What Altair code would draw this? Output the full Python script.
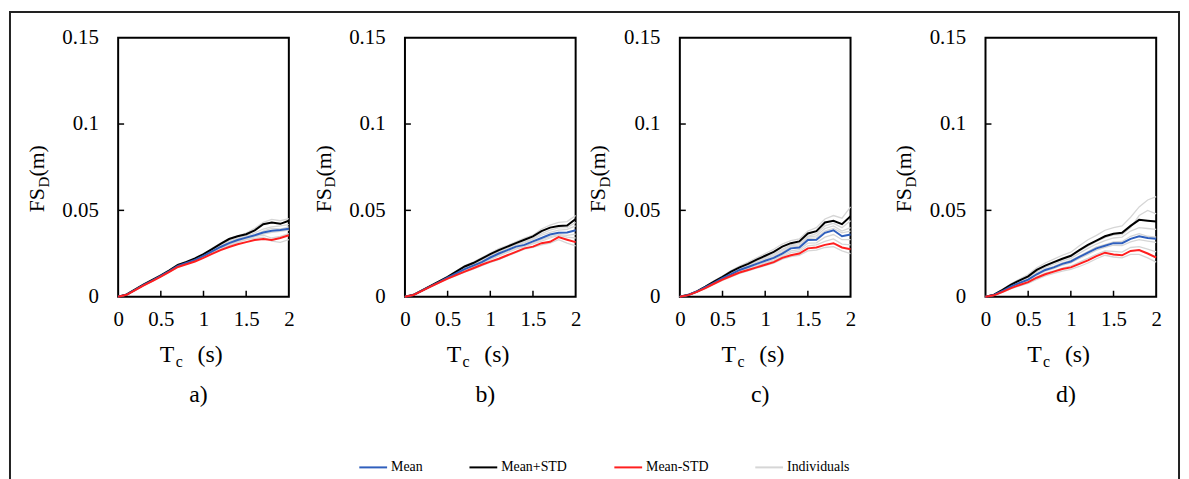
import altair as alt
import pandas as pd

FONT = "Liberation Serif"
W, H = 172, 261

TC = [0, 0.1, 0.2, 0.3, 0.4, 0.5, 0.6, 0.7, 0.8, 0.9, 1.0,
      1.1, 1.2, 1.3, 1.4, 1.5, 1.6, 1.7, 1.8, 1.9, 2.0]

SERIES = ["Mean", "Mean+STD", "Mean-STD", "Individuals"]
COLORS = ["#2f5fbd", "#000000", "#ff1f1f", "#d6d6d6"]
X_TICKS = [0.5, 1, 1.5]
Y_TICKS = [0.05, 0.1]
X_LABELS = [0, 0.5, 1, 1.5, 2]
Y_LABELS = [0, 0.05, 0.1, 0.15]

# ---- panel a ----
a_mean = [0, .0012, .0040, .0068, .0093, .0120, .0148, .0178, .0195, .0213, .0236, .0262, .0288, .0310, .0328, .0342, .0356, .0372, .0382, .0386, .0394]
a_up = [0, .0013, .0042, .0071, .0097, .0124, .0152, .0184, .0202, .0222, .0247, .0276, .0306, .0334, .0350, .0362, .0384, .0420, .0430, .0422, .0440]
a_low = [0, .0011, .0038, .0066, .0090, .0116, .0144, .0172, .0188, .0204, .0225, .0248, .0270, .0288, .0304, .0316, .0328, .0334, .0328, .0340, .0356]
a_ind = [
    [0, .0013, .0042, .0070, .0096, .0123, .0152, .0188, .0200, .0222, .0245, .0280, .0310, .0336, .0352, .0368, .0396, .0430, .0448, .0440, .0452],
    [0, .0011, .0039, .0066, .0090, .0118, .0144, .0170, .0190, .0206, .0230, .0255, .0276, .0300, .0318, .0330, .0338, .0345, .0322, .0315, .0330],
    [0, .0012, .0041, .0069, .0094, .0121, .0150, .0182, .0197, .0218, .0240, .0268, .0296, .0322, .0340, .0352, .0370, .0392, .0405, .0410, .0418],
    [0, .0012, .0039, .0067, .0092, .0119, .0146, .0175, .0193, .0210, .0232, .0258, .0282, .0302, .0322, .0336, .0350, .0362, .0372, .0378, .0385],
    [0, .0013, .0041, .0069, .0095, .0122, .0150, .0180, .0199, .0216, .0238, .0264, .0292, .0315, .0335, .0346, .0358, .0380, .0395, .0392, .0405],
    [0, .0011, .0039, .0067, .0092, .0117, .0145, .0176, .0192, .0208, .0228, .0252, .0280, .0296, .0314, .0330, .0348, .0356, .0340, .0350, .0365],
]

# ---- panel b ----
b_mean = [0, .0010, .0035, .0060, .0085, .0110, .0135, .0160, .0180, .0200, .0227, .0250, .0270, .0290, .0300, .0320, .0340, .0360, .0370, .0372, .0385]
b_up = [0, .0011, .0037, .0063, .0089, .0115, .0145, .0175, .0195, .0220, .0246, .0270, .0290, .0310, .0330, .0349, .0380, .0400, .0410, .0412, .0450]
b_low = [0, .0010, .0034, .0058, .0082, .0105, .0125, .0145, .0165, .0185, .0203, .0220, .0240, .0260, .0280, .0290, .0310, .0318, .0345, .0330, .0316]
b_ind = [
    [0, .0011, .0038, .0064, .0090, .0117, .0148, .0180, .0200, .0226, .0252, .0278, .0296, .0318, .0340, .0356, .0392, .0415, .0430, .0435, .0470],
    [0, .0010, .0033, .0057, .0080, .0103, .0122, .0142, .0160, .0180, .0198, .0215, .0236, .0255, .0275, .0285, .0300, .0310, .0330, .0310, .0295],
    [0, .0010, .0036, .0061, .0086, .0112, .0138, .0165, .0186, .0206, .0235, .0258, .0280, .0300, .0312, .0332, .0356, .0372, .0385, .0390, .0410],
    [0, .0010, .0035, .0059, .0084, .0108, .0132, .0156, .0175, .0195, .0220, .0242, .0262, .0282, .0295, .0312, .0330, .0348, .0360, .0355, .0362],
    [0, .0011, .0036, .0062, .0087, .0113, .0140, .0168, .0188, .0212, .0236, .0262, .0282, .0302, .0318, .0338, .0365, .0385, .0398, .0400, .0430],
    [0, .0010, .0034, .0059, .0083, .0107, .0130, .0152, .0172, .0190, .0215, .0236, .0256, .0276, .0290, .0306, .0322, .0340, .0355, .0345, .0340],
]

# ---- panel c ----
c_mean = [0, .0010, .0030, .0055, .0080, .0107, .0130, .0155, .0172, .0190, .0208, .0225, .0250, .0280, .0285, .0328, .0330, .0370, .0385, .0350, .0360]
c_up = [0, .0011, .0031, .0058, .0088, .0115, .0145, .0170, .0190, .0215, .0237, .0260, .0290, .0310, .0320, .0366, .0380, .0430, .0440, .0420, .0466]
c_low = [0, .0009, .0028, .0050, .0075, .0099, .0120, .0140, .0155, .0170, .0185, .0200, .0225, .0240, .0250, .0280, .0285, .0300, .0310, .0285, .0275]
c_ind = [
    [0, .0011, .0032, .0060, .0092, .0120, .0152, .0178, .0200, .0225, .0250, .0275, .0305, .0325, .0335, .0380, .0400, .0450, .0470, .0455, .0520],
    [0, .0009, .0027, .0048, .0072, .0095, .0115, .0135, .0150, .0165, .0180, .0195, .0218, .0232, .0240, .0265, .0270, .0285, .0290, .0265, .0250],
    [0, .0010, .0030, .0056, .0083, .0110, .0136, .0162, .0180, .0200, .0220, .0240, .0268, .0296, .0300, .0345, .0352, .0395, .0410, .0380, .0400],
    [0, .0010, .0029, .0053, .0078, .0104, .0126, .0150, .0166, .0182, .0198, .0215, .0240, .0265, .0272, .0310, .0312, .0345, .0360, .0330, .0330],
    [0, .0011, .0031, .0057, .0085, .0112, .0140, .0165, .0185, .0205, .0228, .0248, .0275, .0300, .0310, .0350, .0365, .0410, .0425, .0400, .0440],
    [0, .0009, .0028, .0051, .0076, .0100, .0122, .0144, .0160, .0176, .0192, .0208, .0232, .0255, .0262, .0295, .0300, .0320, .0335, .0305, .0300],
    [0, .0010, .0030, .0055, .0081, .0108, .0132, .0158, .0176, .0195, .0214, .0232, .0258, .0288, .0292, .0336, .0340, .0380, .0395, .0370, .0380],
]

# ---- panel d ----
d_mean = [0, .0010, .0033, .0060, .0080, .0099, .0130, .0155, .0170, .0190, .0204, .0230, .0255, .0280, .0295, .0310, .0310, .0335, .0350, .0340, .0335]
d_up = [0, .0012, .0040, .0070, .0095, .0118, .0155, .0180, .0200, .0220, .0237, .0270, .0300, .0325, .0350, .0365, .0370, .0410, .0445, .0440, .0435]
d_low = [0, .0008, .0028, .0050, .0068, .0084, .0110, .0130, .0145, .0160, .0170, .0190, .0210, .0235, .0255, .0245, .0240, .0265, .0270, .0250, .0227]
d_ind = [
    [0, .0013, .0043, .0075, .0102, .0128, .0168, .0195, .0218, .0240, .0258, .0295, .0330, .0355, .0385, .0400, .0410, .0460, .0520, .0560, .0580],
    [0, .0007, .0025, .0046, .0062, .0077, .0100, .0120, .0135, .0148, .0158, .0175, .0195, .0220, .0240, .0230, .0225, .0245, .0245, .0225, .0200],
    [0, .0011, .0036, .0066, .0088, .0110, .0143, .0170, .0188, .0208, .0222, .0252, .0280, .0305, .0325, .0340, .0345, .0380, .0400, .0395, .0390],
    [0, .0010, .0031, .0057, .0076, .0094, .0124, .0148, .0162, .0182, .0196, .0222, .0245, .0270, .0285, .0298, .0296, .0318, .0330, .0322, .0315],
    [0, .0012, .0039, .0069, .0093, .0115, .0150, .0178, .0196, .0216, .0232, .0265, .0292, .0320, .0342, .0358, .0360, .0400, .0470, .0500, .0480],
    [0, .0009, .0029, .0052, .0071, .0088, .0114, .0136, .0150, .0166, .0178, .0200, .0222, .0246, .0265, .0262, .0258, .0285, .0290, .0275, .0260],
    [0, .0010, .0034, .0061, .0082, .0101, .0134, .0160, .0176, .0196, .0210, .0236, .0262, .0288, .0302, .0318, .0320, .0350, .0365, .0350, .0345],
]

PANELS = [
    ("a)", a_mean, a_up, a_low, a_ind),
    ("b)", b_mean, b_up, b_low, b_ind),
    ("c)", c_mean, c_up, c_low, c_ind),
    ("d)", d_mean, d_up, d_low, d_ind),
]


def long_frame(mean, up, low, inds):
    rows = []
    for name, vals in (("Mean", mean), ("Mean+STD", up), ("Mean-STD", low)):
        for t, v in zip(TC, vals):
            rows.append({"Tc": t, "FSD": v, "series": name, "id": name})
    for k, vals in enumerate(inds):
        for t, v in zip(TC, vals):
            rows.append({"Tc": t, "FSD": v, "series": "Individuals", "id": f"ind{k}"})
    return pd.DataFrame(rows)


LEGEND = alt.Legend(
    title=None, orient="none", legendX=242, legendY=418, direction="horizontal",
    symbolType="stroke", symbolSize=784, symbolStrokeWidth=2,
    labelFont=FONT, labelFontSize=14, labelColor="black",
    columnPadding=43, labelOffset=3,
)

X_AXIS = alt.Axis(values=X_LABELS, format=".1~f", title=None, ticks=False,
                  domain=False, grid=False, labelFont=FONT, labelFontSize=21,
                  labelColor="black", labelPadding=12, labelFlush=False, labelOverlap=False)
Y_AXIS = alt.Axis(values=Y_LABELS, format=".2~f", title=None, ticks=False,
                  domain=False, grid=False, labelFont=FONT, labelFontSize=21,
                  labelColor="black", labelPadding=20, labelOverlap=False)

ONE = pd.DataFrame({"k": [0]})


def txt(text, x, y, size, angle=0, align="left"):
    kw = dict(text=text, font=FONT, fontSize=size, color="black", align=align,
              baseline="alphabetic")
    if angle:
        kw["angle"] = angle
    return alt.Chart(ONE).mark_text(**kw).encode(x=alt.value(x), y=alt.value(y))


def panel(idx, label, mean, up, low, inds, ytx):
    df = long_frame(mean, up, low, inds)
    xs = alt.X("Tc:Q", scale=alt.Scale(domain=[0, 2], nice=False), axis=X_AXIS)
    ys = alt.Y("FSD:Q", scale=alt.Scale(domain=[0, 0.15], nice=False), axis=Y_AXIS)
    col = alt.Color("series:N", scale=alt.Scale(domain=SERIES, range=COLORS), legend=LEGEND)
    base = alt.Chart(df)
    layers = []
    if idx == 0:
        layers.append(alt.Chart(ONE).mark_rect(fillOpacity=0, stroke="#222222", strokeWidth=2)
                      .encode(x=alt.value(-109), x2=alt.value(1069),
                              y=alt.value(-26), y2=alt.value(470)))
    layers.append(base.transform_filter(alt.datum.series == "Individuals")
                  .mark_line(strokeWidth=1.3).encode(x=xs, y=ys, color=col, detail="id:N"))
    for s in ("Mean+STD", "Mean", "Mean-STD"):
        layers.append(base.transform_filter(alt.datum.series == s)
                      .mark_line(strokeWidth=2).encode(x=xs, y=ys, color=col))
    layers.append(alt.Chart(pd.DataFrame({"Tc": X_TICKS})).mark_rule(color="black", strokeWidth=1.5)
                  .encode(x=xs, y=alt.value(H), y2=alt.value(H - 6)))
    layers.append(alt.Chart(pd.DataFrame({"FSD": Y_TICKS})).mark_rule(color="black", strokeWidth=1.5)
                  .encode(y=ys, x=alt.value(0), x2=alt.value(6)))
    # x title: T_c (s)
    layers.append(txt("T", 42, 327, 24))
    layers.append(txt("c", 58, 332, 16))
    layers.append(txt("(s)", 80, 327, 24))
    # panel label
    layers.append(txt(label, 81, 367, 24, align="center"))
    # y title: FS_D(m), rotated
    layers.append(txt("FS", ytx, 176, 22, angle=270))
    layers.append(txt("D", ytx + 5, 151, 15, angle=270))
    layers.append(txt("(m)", ytx, 140, 22, angle=270))
    return alt.layer(*layers).properties(width=W, height=H)


def spacer(w):
    return (alt.Chart(ONE).mark_point(opacity=0)
            .encode(x=alt.value(0), y=alt.value(0))
            .properties(width=w, height=H, view=alt.ViewBackground(strokeOpacity=0)))


YT = [-75, -75, -75, -75]
GAPS = [117, 105, 136]
charts = [panel(i, p[0], p[1], p[2], p[3], p[4], YT[i]) for i, p in enumerate(PANELS)]

chart = alt.hconcat(
    charts[0], spacer(GAPS[0]), charts[1], spacer(GAPS[1]), charts[2], spacer(GAPS[2]), charts[3],
    spacing=0, bounds="flush",
).properties(padding=0, background="white").configure_view(stroke="black", strokeWidth=2)

chart.save("out.html", embed_options={"renderer": "svg", "actions": False})
